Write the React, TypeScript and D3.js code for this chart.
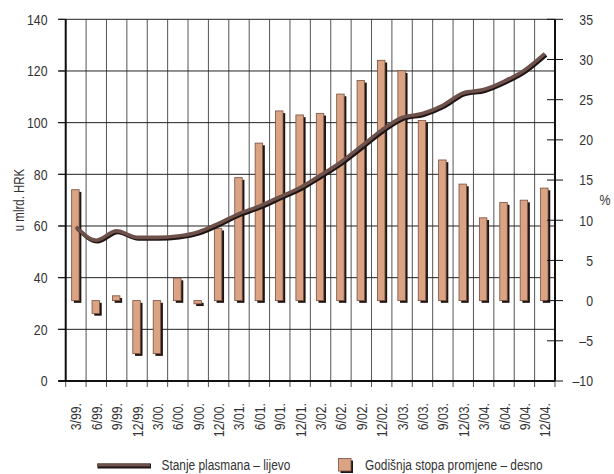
import React from "react";
import * as d3 from "d3";

const categories = ["3/99.", "6/99.", "9/99.", "12/99.", "3/00.", "6/00.", "9/00.", "12/00.", "3/01.", "6/01.", "9/01.", "12/01.", "3/02.", "6/02.", "9/02.", "12/02.", "3/03.", "6/03.", "9/03.", "12/03.", "3/04.", "6/04.", "9/04.", "12/04."];
const stanjePlasmana = [59.7, 54.5, 58.1, 55.6, 55.6, 56.1, 57.7, 61.0, 64.8, 67.7, 71.3, 74.9, 79.7, 84.8, 90.9, 97.1, 102.0, 103.5, 106.7, 111.5, 112.8, 116.0, 120.3, 126.7];
const godisnjaStopa = [13.8, -1.6, 0.6, -6.6, -6.6, 2.8, -0.4, 9.0, 15.3, 19.6, 23.6, 23.1, 23.3, 25.7, 27.4, 29.9, 28.6, 22.4, 17.5, 14.5, 10.3, 12.2, 12.5, 14.0];
const leftTicks = [0, 20, 40, 60, 80, 100, 120, 140];
const rightTicks = [-10, -5, 0, 5, 10, 15, 20, 25, 30, 35];
const leftTitle = "u mlrd. HRK";
const rightTitle = "%";
const lineLabel = "Stanje plasmana – lijevo";
const barLabel = "Godišnja stopa promjene – desno";

const W = 614;
const H = 474;
const L = 65.7;
const R = 555;
const T = 19.3;
const B = 381;
const FONT = "'Liberation Sans', Arial, sans-serif";
const SX = 0.82;
const TEXT = "#333";
const BAR_FILL = "#d9a384";
const BAR_STROKE = "#7a5040";
const SHADOW = "#1e1412";
const LINE = "#6e514b";

type NProps = { x: number; y: number; rot?: number; anchor?: string; size: number; dy?: string; children: React.ReactNode };
function NText({ x, y, rot = 0, anchor = "start", size, dy, children }: NProps) {
  return (
    <text
      transform={`translate(${x},${y}) rotate(${rot}) scale(${SX},1)`}
      textAnchor={anchor as any}
      fontSize={size}
      dy={dy}
      fill={TEXT}
    >
      {children}
    </text>
  );
}

export default function App() {
  const x = d3.scaleBand<string>().domain(categories).range([L, R]).padding(0);
  const yL = d3.scaleLinear().domain([0, 140]).range([B, T]);
  const yR = d3.scaleLinear().domain([-10, 35]).range([B, T]);
  const bw = 7.5;
  const cx = (c: string) => (x(c) as number) + x.bandwidth() / 2;

  const linePts: [number, number][] = categories.map((c, i) => [cx(c), yL(stanjePlasmana[i])]);
  const lineGen = d3.line<[number, number]>().curve(d3.curveMonotoneX);
  const pathD = lineGen(linePts) || "";

  const boundaries = d3.range(categories.length + 1).map((i) => L + i * x.bandwidth());

  return (
    <svg width={W} height={H} style={{ position: "absolute", left: 0, top: 0, background: "#fff" }} fontFamily={FONT}>
      {boundaries.map((bx, i) => (
        <line key={"v" + i} x1={bx} x2={bx} y1={T} y2={B + 6} stroke="#555" strokeWidth={1} />
      ))}
      {leftTicks.filter((t) => t > 0).map((t) => (
        <line key={"h" + t} x1={L - 7.5} x2={R} y1={yL(t)} y2={yL(t)} stroke="#222" strokeWidth={1} />
      ))}
      {categories.map((c, i) => {
        const v = godisnjaStopa[i];
        const y0 = yR(0);
        const y1 = yR(v);
        const top = Math.min(y0, y1);
        const h = Math.max(Math.abs(y1 - y0), 1);
        const bx = cx(c) - bw / 2 - 0.5;
        return (
          <g key={"b" + i}>
            <rect x={bx + 2.2} y={top + 2.2} width={bw} height={h} fill={SHADOW} />
            <rect x={bx} y={top} width={bw} height={h} fill={BAR_FILL} stroke={BAR_STROKE} strokeWidth={0.8} />
          </g>
        );
      })}
      <path d={pathD} transform="translate(1.2,1.4)" fill="none" stroke={SHADOW} strokeWidth={4} strokeLinejoin="round" />
      <path d={pathD} fill="none" stroke={LINE} strokeWidth={3.6} strokeLinejoin="round" />
      <line x1={L} x2={L} y1={T} y2={B} stroke="#111" strokeWidth={2} />
      <line x1={R} x2={R} y1={T} y2={B} stroke="#111" strokeWidth={2} />
      <line x1={L - 7.5} x2={R} y1={B} y2={B} stroke="#111" strokeWidth={2} />
      {leftTicks.map((t) => (
        <g key={"lt" + t}>
          <line x1={L - 7.5} x2={L} y1={yL(t)} y2={yL(t)} stroke="#111" strokeWidth={1} />
          <NText x={47.5} y={yL(t)} dy="0.36em" anchor="end" size={15}>{t}</NText>
        </g>
      ))}
      {rightTicks.map((t) => (
        <g key={"rt" + t}>
          <line x1={R - 8} x2={R + 8} y1={yR(t)} y2={yR(t)} stroke="#111" strokeWidth={1} />
          <NText x={593} y={yR(t)} dy="0.36em" anchor="end" size={15}>{t < 0 ? "–" + Math.abs(t) : t}</NText>
        </g>
      ))}
      {categories.map((c) => (
        <NText key={"xl" + c} x={cx(c) + 5.5} y={403} rot={-90} anchor="end" size={15}>{c}</NText>
      ))}
      <NText x={24} y={200} rot={-90} anchor="middle" size={14}>{leftTitle}</NText>
      <NText x={605} y={200} dy="0.36em" anchor="middle" size={15}>{rightTitle}</NText>
      <line x1={97.5} x2={151} y1={466} y2={466} stroke={SHADOW} strokeWidth={5} />
      <line x1={97} x2={150} y1={465} y2={465} stroke={LINE} strokeWidth={3.2} />
      <NText x={161.5} y={470} size={14.5}>{lineLabel}</NText>
      <rect x={340.5} y={460.5} width={12.5} height={12.5} fill={SHADOW} />
      <rect x={338.5} y={458.5} width={12.5} height={12.5} fill={BAR_FILL} stroke={BAR_STROKE} strokeWidth={0.8} />
      <NText x={365} y={470} size={14.5}>{barLabel}</NText>
    </svg>
  );
}
